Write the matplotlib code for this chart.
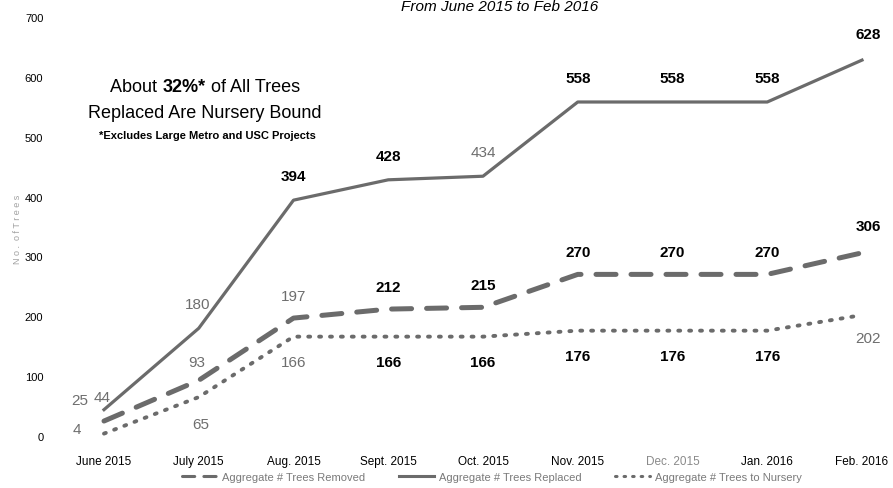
import matplotlib.pyplot as plt
import numpy as np

months = ['June 2015', 'July 2015', 'Aug. 2015', 'Sept. 2015', 'Oct. 2015',
          'Nov. 2015', 'Dec. 2015', 'Jan. 2016', 'Feb. 2016']
removed = [25, 93, 197, 212, 215, 270, 270, 270, 306]
replaced = [44, 180, 394, 428, 434, 558, 558, 558, 628]
nursery = [4, 65, 166, 166, 166, 176, 176, 176, 202]

# which labels are drawn bold/black (the rest are gray)
removed_bold = [0, 0, 0, 1, 1, 1, 1, 1, 1]
replaced_bold = [0, 0, 1, 1, 0, 1, 1, 1, 1]
nursery_bold = [0, 0, 0, 1, 1, 1, 1, 1, 0]

plt.rcParams['font.family'] = ['Liberation Sans', 'DejaVu Sans']

line_col = '#6b6b6b'
gray_txt = '#6e6e6e'

W, H = 893, 489
fig = plt.figure(figsize=(8.93, 4.89), dpi=100)
ax = fig.add_axes([60 / W, 52 / H, 820 / W, 419 / H])
x = np.arange(len(months))
ax.set_xlim(-44 / 94.75, 8 + 18 / 94.75)
ax.set_ylim(0, 700)

ax.plot(x, removed, color=line_col, lw=3.6, ls=(0, (4.0, 3.0)),
        dash_capstyle='round', label='Aggregate # Trees Removed')
ax.plot(x, replaced, color=line_col, lw=2.3, label='Aggregate # Trees Replaced')
ax.plot(x, nursery, color=line_col, lw=2.8, ls=(0, (0.5, 2.3)), dash_capstyle='round',
        label='Aggregate # Trees to Nursery')

def put_labels(vals, bold, offs):
    for i, v in enumerate(vals):
        dx, dy = offs[i]
        ax.annotate(str(v), (i, v), xytext=(dx, dy), textcoords='offset pixels',
                    ha='center', va='center', fontsize=11,
                    fontweight='bold' if bold[i] else 'normal',
                    color='black' if bold[i] else gray_txt, annotation_clip=False)

put_labels(replaced, replaced_bold,
           [(-2, 13), (-1, 24)] + [(0, 24)] * 6 + [(6, 26)])
put_labels(removed, removed_bold,
           [(-24, 21), (-2, 18)] + [(0, 22)] * 6 + [(6, 27)])
put_labels(nursery, nursery_bold,
           [(-27, 5), (2, -27)] + [(0, -25)] * 6 + [(6, -23)])

ax.set_xticks(x)
ax.set_xticklabels(months, fontsize=8.5)
ax.get_xticklabels()[6].set_color('#8a8a8a')
ax.set_yticks(range(0, 701, 100))
ax.tick_params(axis='both', length=0)
ax.tick_params(axis='y', labelsize=8, pad=12)
ax.tick_params(axis='x', pad=14)
for s in ax.spines.values():
    s.set_visible(False)

fig.text(17 / W, 1 - 229 / H, 'N o .  o f T r e e s', rotation=90, fontsize=6.5,
         color='#a0a0a0', ha='center', va='center')

fig.text(500 / W, 1.0, 'From June 2015 to Feb 2016', fontsize=11,
         style='italic', ha='center', va='top')

# "About 32%* of All Trees" with bold middle part
t1 = fig.text(104 / W, 1 - 88 / H, 'About ', fontsize=13, ha='left', va='center')
t2 = fig.text(0, 0, '32%*', fontsize=13, fontweight='bold', ha='left', va='center')
t3 = fig.text(0, 0, ' of All Trees', fontsize=13, ha='left', va='center')
fig.canvas.draw()
r = fig.canvas.get_renderer()
b1 = t1.get_window_extent(r)
t2.set_position((b1.x1 / W, 1 - 88 / H))
b2 = t2.get_window_extent(r)
t3.set_position((b2.x1 / W, 1 - 88 / H))
b3 = t3.get_window_extent(r)
shift = ((b3.x1 + b1.x0) / 2 - 205) / W
for t in (t1, t2, t3):
    px, py = t.get_position()
    t.set_position((px - shift, py))

fig.text(205 / W, 1 - 113 / H, 'Replaced Are Nursery Bound', fontsize=13,
         ha='center', va='center')
fig.text(207 / W, 1 - 136 / H, '*Excludes Large Metro and USC Projects', fontsize=8,
         fontweight='bold', ha='center', va='center')

leg = ax.legend(loc='center', bbox_to_anchor=(492 / W, 1 - 478 / H),
                bbox_transform=fig.transFigure, ncol=3, frameon=False, fontsize=8,
                handlelength=3.2, columnspacing=3.0, handletextpad=0.4)
for t in leg.get_texts():
    t.set_color('#7a7a7a')
for h in leg.get_lines():
    h.set_linewidth(2.2)

fig.savefig('out.png', dpi=100)
